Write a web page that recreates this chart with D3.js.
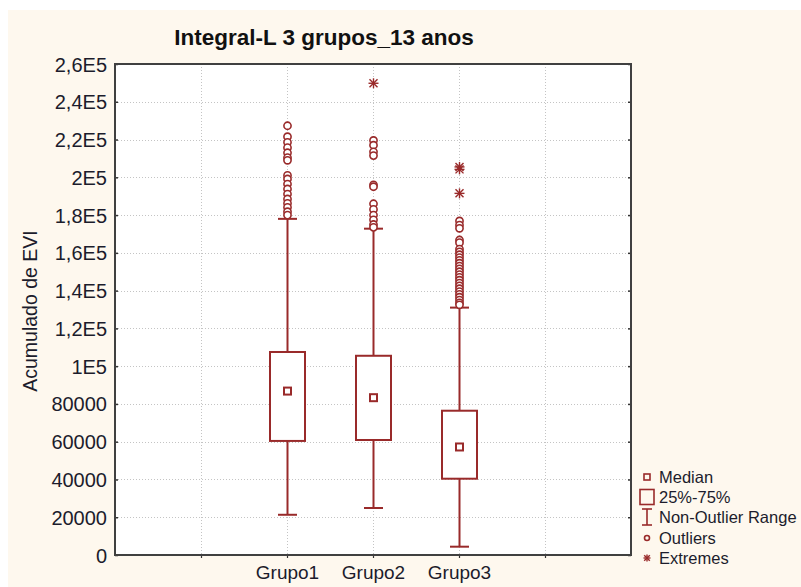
<!DOCTYPE html>
<html>
<head>
<meta charset="utf-8">
<script src="https://cdn.jsdelivr.net/npm/d3@7/dist/d3.min.js"></script>
<style>
  html, body { margin: 0; padding: 0; background: #ffffff; }
  svg { display: block; }
  text { font-family: "Liberation Sans", Arial, sans-serif; }
</style>
</head>
<body>
<svg id="chart" width="801" height="587"></svg>
<script>
// Box plot summaries for each group
const groups = ["Grupo1", "Grupo2", "Grupo3"];
const q1Values = [60400, 60900, 40400];
const q3Values = [107500, 105500, 76400];
const medianValues = [86800, 83300, 57200];
const whiskerLow = [21300, 24900, 4400];
const whiskerHigh = [178000, 172800, 131000];

// Outlier values per group
const outliersGrupo1 = [227300, 221500, 218500, 215700, 213000, 210400, 209000,
  201000, 199100, 196400, 193800, 191100, 188500, 186200, 184100, 181800, 180000];
const outliersGrupo2 = [219500, 217000, 213500, 211500, 196000, 195000,
  186000, 183000, 180000, 177500, 175000, 173500];
const outliersGrupo3 = [176900, 174700, 173000, 166800, 165400,
  162000, 160500, 159000, 157500, 156000, 154500, 153000, 151500, 150000,
  148500, 147000, 145500, 144000, 142500, 141000, 139500, 138000, 136500,
  135000, 133500, 132500];
const outliers = [outliersGrupo1, outliersGrupo2, outliersGrupo3];

// Extreme values per group
const extremes = [[], [249800], [205500, 204200, 191500]];

// Y axis ticks and their printed labels
const yTicks = [0, 20000, 40000, 60000, 80000, 100000, 120000, 140000, 160000,
  180000, 200000, 220000, 240000, 260000];
const yTickLabels = ["0", "20000", "40000", "60000", "80000", "1E5", "1,2E5",
  "1,4E5", "1,6E5", "1,8E5", "2E5", "2,2E5", "2,4E5", "2,6E5"];

// Category slots on the x axis (empty slots at both ends)
const xSlots = [1, 2, 3, 4, 5];
const groupSlot = [2, 3, 4];

const legendItems = ["Median", "25%-75%", "Non-Outlier Range", "Outliers", "Extremes"];

const red = "#992a2a";
const textColor = "#1c1c2c";
const font = "'Liberation Sans', Arial, sans-serif";

const svg = d3.select("#chart");

// Page background
svg.append("rect").attr("x", 8).attr("y", 10).attr("width", 793).attr("height", 577)
  .attr("fill", "#fef8ee");

const plot = { left: 115, right: 631, top: 64, bottom: 555 };

const x = d3.scaleLinear().domain([0, 6]).range([plot.left, plot.right]);
const y = d3.scaleLinear().domain([0, 260000]).range([plot.bottom, plot.top]);

// Plot area
svg.append("rect")
  .attr("x", plot.left).attr("y", plot.top)
  .attr("width", plot.right - plot.left).attr("height", plot.bottom - plot.top)
  .attr("fill", "#ffffff");

// Grid lines
const grid = svg.append("g").attr("stroke", "#c4c4c4").attr("stroke-width", 1)
  .attr("stroke-dasharray", "1,2");
grid.selectAll("line.h").data(yTicks.slice(1, -1)).join("line")
  .attr("class", "h")
  .attr("x1", plot.left).attr("x2", plot.right)
  .attr("y1", d => Math.round(y(d)) + 0.5).attr("y2", d => Math.round(y(d)) + 0.5);
grid.selectAll("line.v").data(xSlots).join("line")
  .attr("class", "v")
  .attr("x1", d => Math.round(x(d)) + 0.5).attr("x2", d => Math.round(x(d)) + 0.5)
  .attr("y1", plot.top).attr("y2", plot.bottom);

// Left axis
const yAxis = d3.axisLeft(y).tickValues(yTicks)
  .tickFormat((d, i) => yTickLabels[i]).tickSizeInner(-3).tickSizeOuter(0).tickPadding(10);
const gy = svg.append("g").attr("transform", `translate(${plot.left},0)`).call(yAxis);
gy.select(".domain").remove();
gy.selectAll(".tick line").attr("stroke", "#333").attr("stroke-width", 1.5);
gy.selectAll(".tick text").attr("font-size", 20).attr("fill", textColor)
  .attr("font-family", font).attr("x", -8).attr("dy", "0.35em");

// Right axis ticks (inward)
const yAxisR = d3.axisRight(y).tickValues(yTicks).tickFormat("").tickSizeInner(-3).tickSizeOuter(0);
const gyr = svg.append("g").attr("transform", `translate(${plot.right},0)`).call(yAxisR);
gyr.select(".domain").remove();
gyr.selectAll(".tick line").attr("stroke", "#333").attr("stroke-width", 1.5);

// Bottom axis
const xAxis = d3.axisBottom(x).tickValues(xSlots)
  .tickFormat(d => { const i = groupSlot.indexOf(d); return i >= 0 ? groups[i] : ""; })
  .tickSizeInner(3).tickSizeOuter(0).tickPadding(8);
const gx = svg.append("g").attr("transform", `translate(0,${plot.bottom})`).call(xAxis);
gx.select(".domain").remove();
gx.selectAll(".tick line").attr("stroke", "#333").attr("stroke-width", 1.2);
gx.selectAll(".tick text").attr("font-size", 19).attr("fill", textColor)
  .attr("font-family", font);

// Frame
svg.append("rect")
  .attr("x", plot.left).attr("y", plot.top)
  .attr("width", plot.right - plot.left).attr("height", plot.bottom - plot.top)
  .attr("fill", "none").attr("stroke", "#404040").attr("stroke-width", 2);

// Boxes
const boxW = 35, capW = 19, medS = 7;
const boxes = svg.append("g").attr("stroke", red).attr("fill", "none").attr("stroke-width", 2);
groups.forEach((g, i) => {
  const cx = Math.round(x(groupSlot[i])) + 0.5;
  // whiskers
  boxes.append("line").attr("x1", cx).attr("x2", cx)
    .attr("y1", y(whiskerHigh[i])).attr("y2", y(q3Values[i]));
  boxes.append("line").attr("x1", cx).attr("x2", cx)
    .attr("y1", y(q1Values[i])).attr("y2", y(whiskerLow[i]));
  boxes.append("line").attr("x1", cx - capW / 2).attr("x2", cx + capW / 2)
    .attr("y1", y(whiskerHigh[i])).attr("y2", y(whiskerHigh[i]));
  boxes.append("line").attr("x1", cx - capW / 2).attr("x2", cx + capW / 2)
    .attr("y1", y(whiskerLow[i])).attr("y2", y(whiskerLow[i]));
  // box
  boxes.append("rect").attr("x", cx - boxW / 2).attr("y", y(q3Values[i]))
    .attr("width", boxW).attr("height", y(q1Values[i]) - y(q3Values[i]))
    .attr("fill", "#ffffff");
  // median
  boxes.append("rect").attr("x", cx - medS / 2).attr("y", y(medianValues[i]) - medS / 2)
    .attr("width", medS).attr("height", medS).attr("fill", "#ffffff");
  // outliers
  boxes.selectAll(null).data(outliers[i]).join("circle")
    .attr("cx", cx).attr("cy", d => y(d)).attr("r", 3.6)
    .attr("fill", "#ffffff").attr("stroke-width", 1.6);
  // extremes
  extremes[i].forEach(v => drawStar(boxes, cx, y(v), 5));
});

function drawStar(sel, cx, cy, r) {
  const gS = sel.append("g").attr("stroke-width", 1.4);
  [[0, -r, 0, r], [-r, 0, r, 0], [-r * 0.8, -r * 0.8, r * 0.8, r * 0.8], [-r * 0.8, r * 0.8, r * 0.8, -r * 0.8]]
    .forEach(s => gS.append("line").attr("x1", cx + s[0]).attr("y1", cy + s[1])
      .attr("x2", cx + s[2]).attr("y2", cy + s[3]));
}

// Title
svg.append("text").attr("x", 324).attr("y", 45).attr("text-anchor", "middle")
  .attr("font-size", 22.5).attr("font-weight", "bold").attr("fill", "#111")
  .text("Integral-L 3 grupos_13 anos");

// Y axis title
svg.append("text").attr("transform", "translate(37,311) rotate(-90)")
  .attr("text-anchor", "middle").attr("font-size", 19.5).attr("fill", textColor)
  .text("Acumulado de EVI");

// Legend
const legendY = [477, 497, 517, 538, 558];
const lg = svg.append("g");
legendItems.forEach((t, i) => {
  lg.append("text").attr("x", 659).attr("y", legendY[i]).attr("dy", "0.35em")
    .attr("font-size", 16.5).attr("fill", textColor).text(t);
});
const lm = lg.append("g").attr("stroke", red).attr("fill", "none").attr("stroke-width", 1.6);
const mx = 647;
lm.append("rect").attr("x", mx - 3).attr("y", legendY[0] - 3).attr("width", 6).attr("height", 6);
lm.append("rect").attr("x", mx - 7).attr("y", legendY[1] - 7.5).attr("width", 14).attr("height", 15);
lm.append("line").attr("x1", mx).attr("x2", mx).attr("y1", legendY[2] - 8).attr("y2", legendY[2] + 8);
lm.append("line").attr("x1", mx - 5).attr("x2", mx + 5).attr("y1", legendY[2] - 8).attr("y2", legendY[2] - 8);
lm.append("line").attr("x1", mx - 5).attr("x2", mx + 5).attr("y1", legendY[2] + 8).attr("y2", legendY[2] + 8);
lm.append("circle").attr("cx", mx).attr("cy", legendY[3]).attr("r", 2.5);
drawStar(lm, mx, legendY[4], 3.5);
</script>
</body>
</html>
